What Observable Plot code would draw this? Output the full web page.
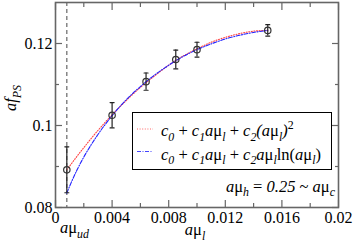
<!DOCTYPE html>
<html><head><meta charset="utf-8">
<script src="https://cdn.jsdelivr.net/npm/d3@7"></script>
<script src="https://cdn.jsdelivr.net/npm/@observablehq/plot@0.6"></script>
<style>body{margin:0;background:#fff} #chart svg{display:block}</style>
</head><body><div id="chart"></div>
<script>
// data
const muL = [0.0008, 0.004, 0.0064, 0.0085, 0.010, 0.015];
const afPS = [0.0892, 0.1025, 0.1107, 0.1161, 0.1185, 0.1232];
const afPSErr = [0.0056, 0.0031, 0.0021, 0.0023, 0.0018, 0.0014];
const fitX = [0.0008, 0.001, 0.0015, 0.002, 0.003, 0.004, 0.005, 0.006, 0.007, 0.008, 0.009, 0.010, 0.011, 0.012, 0.013, 0.014, 0.015];
const fitQuad = [0.0892, 0.0901, 0.0924, 0.0946, 0.0988, 0.1026, 0.1061, 0.1093, 0.1121, 0.1147, 0.1169, 0.1187, 0.1203, 0.1215, 0.1224, 0.1230, 0.1232];
const fitLog = [0.0835, 0.0852, 0.0890, 0.0923, 0.0978, 0.1024, 0.1063, 0.1095, 0.1123, 0.1147, 0.1168, 0.1185, 0.1199, 0.1211, 0.1220, 0.1227, 0.1232];
const muUD = 0.0008;
const xMajor = [0, 0.004, 0.008, 0.012, 0.016, 0.02];
const xMinor = [0.002, 0.006, 0.010, 0.014, 0.018];
const xLabels = ["0", "0.004", "0.008", "0.012", "0.016", "0.02"];
const yMajor = [0.08, 0.1, 0.12];
const yMinor = [0.09, 0.11];
const yLabels = ["0.08", "0.1", "0.12"];

const points = muL.map((x, i) => ({x, y: afPS[i], e: afPSErr[i]}));
const quad = fitX.map((x, i) => ({x, y: fitQuad[i]}));
const logf = fitX.map((x, i) => ({x, y: fitLog[i]}));

const FONT = "'Liberation Serif', serif";
const FS = 16;     // tick labels
const LFS = 16.5;  // legend / titles
const AX = "#666";
const capShape = {draw(ctx, l) { ctx.moveTo(0, 0); ctx.lineTo(0, -l); }};
const noLabel = () => "";

const plot = Plot.plot({
  width: 354, height: 245,
  marginLeft: 55, marginRight: 16, marginTop: 2, marginBottom: 38,
  style: {fontFamily: FONT, fontSize: FS + "px", color: "#000", background: "#fff", overflow: "visible"},
  x: {domain: [0, 0.02], label: null},
  y: {domain: [0.08, 0.13], label: null},
  marks: [
    Plot.ruleX([muUD], {stroke: "#666", strokeDasharray: "4,3", strokeWidth: 1.2}),
    Plot.line(quad, {x: "x", y: "y", stroke: "#f44", strokeDasharray: "1,1.6", strokeWidth: 1.1, curve: "monotone-x"}),
    Plot.line(logf, {x: "x", y: "y", stroke: "#22f", strokeDasharray: "4,1.5,1,1.5", strokeWidth: 1.1, curve: "monotone-x"}),
    Plot.ruleX(points, {x: "x", y1: d => d.y - d.e, y2: d => d.y + d.e, stroke: "#222", strokeWidth: 1.2}),
    Plot.vector(points, {x: "x", y: d => d.y - d.e, length: 4, rotate: 90, anchor: "middle", shape: capShape, stroke: "#222", strokeWidth: 1.2}),
    Plot.vector(points, {x: "x", y: d => d.y + d.e, length: 4, rotate: 90, anchor: "middle", shape: capShape, stroke: "#222", strokeWidth: 1.2}),
    Plot.dot(points, {x: "x", y: "y", r: 3.2, stroke: "#333", strokeWidth: 1.2, fill: "none"}),
    Plot.frame({stroke: AX, strokeWidth: 1.6}),
    Plot.axisX(xMajor, {anchor: "bottom", tickSize: -7, tickFormat: noLabel, stroke: AX, strokeWidth: 1.2}),
    Plot.axisX(xMinor, {anchor: "bottom", tickSize: -4, tickFormat: noLabel, stroke: AX, strokeWidth: 1.2}),
    Plot.axisX(xMajor, {anchor: "top", tickSize: -7, tickFormat: noLabel, stroke: AX, strokeWidth: 1.2}),
    Plot.axisX(xMinor, {anchor: "top", tickSize: -4, tickFormat: noLabel, stroke: AX, strokeWidth: 1.2}),
    Plot.axisY(yMajor, {anchor: "left", tickSize: -7, tickFormat: noLabel, stroke: AX, strokeWidth: 1.2}),
    Plot.axisY(yMinor, {anchor: "left", tickSize: -4, tickFormat: noLabel, stroke: AX, strokeWidth: 1.2}),
    Plot.axisY(yMajor, {anchor: "right", tickSize: -7, tickFormat: noLabel, stroke: AX, strokeWidth: 1.2}),
    Plot.axisY(yMinor, {anchor: "right", tickSize: -4, tickFormat: noLabel, stroke: AX, strokeWidth: 1.2}),
    Plot.axisX(xMajor, {anchor: "bottom", tickSize: 0, tickPadding: 4, tickFormat: d => xLabels[xMajor.indexOf(d)], fill: "#000", fontSize: FS}),
    Plot.axisY(yMajor, {anchor: "left", tickSize: 0, tickPadding: 3, tickFormat: d => yLabels[yMajor.indexOf(d)], fill: "#000", fontSize: FS})
  ]
});
document.getElementById("chart").appendChild(plot);

// rich text helper
const svg = d3.select(plot);
function rich(x, y, parts, {anchor = "start", size = LFS, rotate = 0} = {}) {
  const t = svg.append("text")
    .style("font-family", FONT).attr("font-size", size).attr("fill", "#000")
    .attr("text-anchor", anchor);
  if (rotate) t.attr("transform", `translate(${x},${y}) rotate(${rotate})`);
  else t.attr("x", x).attr("y", y);
  let cur = 0;
  for (const [s, st = ""] of parts) {
    const ts = t.append("tspan").text(s);
    let target = 0;
    if (st.includes("i")) ts.attr("font-style", "italic");
    if (st.includes("_")) { target = size * 0.3; ts.attr("font-size", size * 0.72); }
    if (st.includes("^")) { target = -size * 0.42; ts.attr("font-size", size * 0.72); }
    if (target !== cur) { ts.attr("dy", target - cur); cur = target; }
  }
  return t;
}

// axis titles
rich(195, 235, [["a", "i"], ["μ"], ["l", "i_"]], {anchor: "middle"});
rich(60, 233, [["a", "i"], ["μ"], ["ud", "i_"]]);
rich(16, 98, [["af", "i"], ["PS", "i_"]], {anchor: "middle", rotate: -90});

// legend
svg.append("rect").attr("x", 132.5).attr("y", 112.5).attr("width", 199).attr("height", 57)
  .attr("fill", "#fff").attr("stroke", "#000").attr("stroke-width", 1);
svg.append("line").attr("x1", 137).attr("x2", 153).attr("y1", 129).attr("y2", 129)
  .attr("stroke", "#f66").attr("stroke-dasharray", "1,1.6").attr("stroke-width", 1);
svg.append("line").attr("x1", 137).attr("x2", 153).attr("y1", 151.5).attr("y2", 151.5)
  .attr("stroke", "#44f").attr("stroke-dasharray", "4,1.5,1,1.5").attr("stroke-width", 1);
rich(161, 136, [["c", "i"], ["0", "i_"], [" + "], ["c", "i"], ["1", "i_"], ["a", "i"], ["μ"], ["l", "i_"], [" + "], ["c", "i"], ["2", "i_"], ["(a", "i"], ["μ"], ["l", "i_"], [")", "i"], ["2", "^"]]);
rich(161, 159.5, [["c", "i"], ["0", "i_"], [" + "], ["c", "i"], ["1", "i_"], ["a", "i"], ["μ"], ["l", "i_"], [" + "], ["c", "i"], ["2", "i_"], ["a", "i"], ["μ"], ["l", "i_"], ["ln("], ["a", "i"], ["μ"], ["l", "i_"], [")"]]);

// annotation
rich(335, 191.5, [["a", "i"], ["μ"], ["h", "i_"], [" = "], ["0.25", "i"], [" ~ "], ["a", "i"], ["μ"], ["c", "i_"]], {anchor: "end"});
</script>
</body></html>
